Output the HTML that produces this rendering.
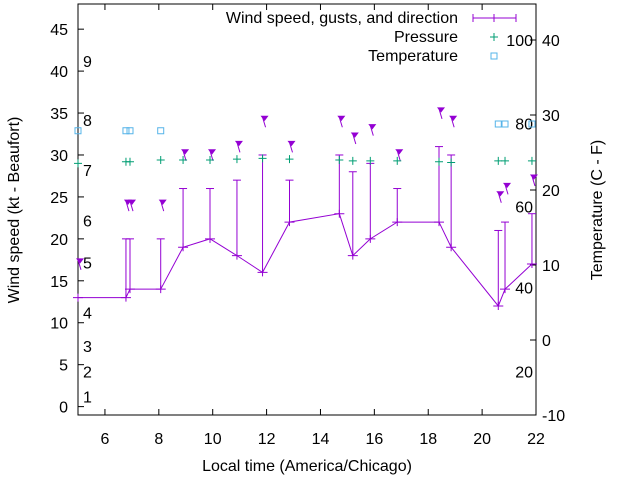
<!DOCTYPE html>
<html><head><meta charset="utf-8"><style>
body{margin:0;background:#fff;}
svg{display:block;font-family:"Liberation Sans",sans-serif;}
</style></head><body>
<svg id="chart" width="640" height="480" viewBox="0 0 640 480" xmlns="http://www.w3.org/2000/svg"></svg>
<script>
const times=[5.0,6.78,6.93,8.07,8.9,9.9,10.9,11.85,12.85,14.7,15.2,15.85,16.85,18.4,18.85,20.6,20.85,21.85];
const windSpeed=[13,13,14,14,19,20,18,16,22,23,18,20,22,22,19,12,14,17];
const gusts=[null,20,20,20,26,26,27,30,27,30,28,29,26,31,30,21,22,23];
const pressure=[29.0,29.2,29.2,29.4,29.4,29.4,29.5,29.6,29.5,29.4,29.3,29.3,29.3,29.2,29.1,29.3,29.3,29.3];
const tempTimes=[5.0,6.78,6.93,8.07,20.6,20.85,21.85];
const tempC=[27.9,27.9,27.9,27.9,28.8,28.8,28.8];
const arrowLevel=[17.5,24.5,24.5,24.5,30.5,30.5,31.5,34.5,31.5,34.5,32.5,33.5,30.5,35.5,34.5,25.5,26.5,27.5];
const leftTicks=[0,5,10,15,20,25,30,35,40,45];
const rightTicks=[-10,0,10,20,30,40];
const xTicks=[6,8,10,12,14,16,18,20,22];
const beaufort=[[1,1.2],[2,4.2],[3,7.2],[4,11.2],[5,17.2],[6,22.2],[7,28.2],[8,34.2],[9,41.2]];
const fahr=[[20,-4.2],[40,7],[60,17.8],[80,28.9],[100,40]];

const L=78,R=536,T=4,B=415;
const X=t=>L+(t-5)/(22-5)*(R-L);
const Y=v=>B-(v+1)/(48+1)*(B-T);
const YR=v=>B-(v+10)/(44.8+10)*(B-T);
const svg=document.getElementById('chart');
const NS='http://www.w3.org/2000/svg';
function mk(tag,attrs,name,parent){const e=document.createElementNS(NS,tag);for(const k in attrs)e.setAttribute(k,attrs[k]);


(parent||svg).appendChild(e);return e;}
function txt(x,y,s,anchor,name,extra){const e=mk('text',Object.assign({x:x,y:y,'font-size':16,fill:'#000','text-anchor':anchor||'start'},extra||{}),name);e.textContent=s;return e;}

mk('rect',{x:L,y:T,width:R-L,height:B-T,fill:'none',stroke:'#000','stroke-width':1},'plot-border');
leftTicks.forEach(v=>{const y=Y(v);mk('line',{x1:L,y1:y,x2:L+6,y2:y,stroke:'#000'},'left-tick');txt(L-10,y+6,String(v),'end','left-tick-label');});
rightTicks.forEach(v=>{const y=YR(v);mk('line',{x1:R-6,y1:y,x2:R,y2:y,stroke:'#000'},'right-tick');txt(R+6,y+6,String(v),'start','right-tick-label');});
xTicks.forEach(v=>{const x=X(v);mk('line',{x1:x,y1:B,x2:x,y2:B-6,stroke:'#000'},'x-tick');mk('line',{x1:x,y1:T,x2:x,y2:T+6,stroke:'#000'},'x-tick-top');txt(x,B+29,String(v),'middle','x-tick-label');});
beaufort.forEach(b=>txt(83,Y(b[1])+6,String(b[0]),'start','beaufort-label'));
fahr.forEach(f=>txt(533,YR(f[1])+6,String(f[0]),'end','fahrenheit-label'));
txt(307,471,'Local time (America/Chicago)','middle','x-axis-title');
mk('text',{x:0,y:0,'font-size':16,'text-anchor':'middle',transform:'translate(19,210) rotate(-90)'},'y-axis-title').textContent='Wind speed (kt - Beaufort)';
mk('text',{x:0,y:0,'font-size':16,'text-anchor':'middle',transform:'translate(602,210) rotate(-90)'},'y2-axis-title').textContent='Temperature (C - F)';

const P='#9400d3';
// gust bars
times.forEach((t,i)=>{if(gusts[i]==null)return;const x=X(t);
mk('line',{x1:x,y1:Y(windSpeed[i]),x2:x,y2:Y(gusts[i]),stroke:P},'gust-bar');
mk('line',{x1:x-4,y1:Y(gusts[i]),x2:x+4,y2:Y(gusts[i]),stroke:P},'gust-cap');});
mk('polyline',{points:times.map((t,i)=>X(t)+','+Y(windSpeed[i])).join(' '),fill:'none',stroke:P},'wind-speed-line');
times.forEach((t,i)=>{const x=X(t),y=Y(windSpeed[i]);
mk('path',{d:`M${x-5},${y}H${x+5}M${x},${y-4}V${y+4}`,stroke:P},'wind-point');});
// direction arrows
times.forEach((t,i)=>{const x=X(t),y=Y(arrowLevel[i]);
mk('line',{x1:x,y1:y,x2:x+3,y2:y+10,stroke:P},'direction-arrow');
mk('path',{d:`M${x-1},${y-1} l6,0 l-3,4 z`,fill:P,stroke:P},'direction-arrow-head');});
// pressure
const G='#009e73';
times.forEach((t,i)=>{const x=X(t),y=Y(pressure[i]);
mk('path',{d:`M${x-4},${y}H${x+4}M${x},${y-4}V${y+4}`,stroke:G},'pressure-point');});
// temperature
tempTimes.forEach((t,i)=>{const x=X(t),y=YR(tempC[i]);
mk('rect',{x:x-3,y:y-3,width:6,height:6,fill:'none',stroke:'#56b4e9'},'temperature-point');});
// legend
txt(458,23,'Wind speed, gusts, and direction','end','legend-wind');
mk('path',{d:'M473,18H516M473,14V22M516,14V22M494,14V22',stroke:P},'legend-wind-sample');
txt(458,42,'Pressure','end','legend-pressure');
mk('path',{d:'M490,37H498M494,33V41',stroke:G},'legend-pressure-sample');
txt(458,61,'Temperature','end','legend-temperature');
mk('rect',{x:491,y:53,width:6,height:6,fill:'none',stroke:'#56b4e9'},'legend-temperature-sample');
</script>
</body></html>
